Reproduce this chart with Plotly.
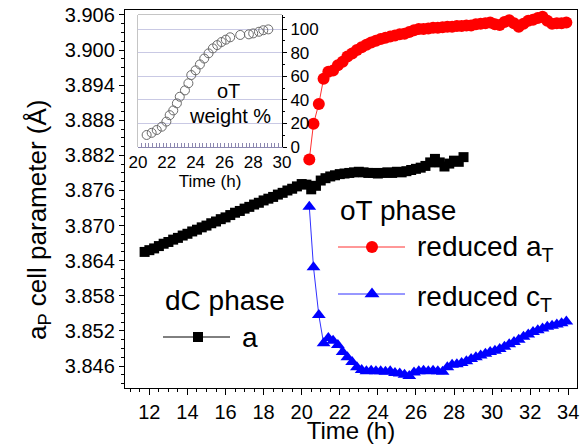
import plotly.graph_objects as go

# dC phase: cubic cell parameter a versus time
t_dc = [11.75, 12.00, 12.25, 12.50, 12.75, 13.00, 13.25, 13.50, 13.75, 14.00,
        14.25, 14.50, 14.75, 15.00, 15.25, 15.50, 15.75, 16.00, 16.25, 16.50,
        16.75, 17.00, 17.25, 17.50, 17.75, 18.00, 18.25, 18.50, 18.75, 19.00,
        19.25, 19.50, 19.75, 20.00, 20.25, 20.50, 20.75, 21.00, 21.25, 21.50,
        21.75, 22.00, 22.25, 22.50, 22.75, 23.00, 23.25, 23.50, 23.75, 24.00,
        24.25, 24.50, 24.75, 25.00, 25.25, 25.50, 25.75, 26.00, 26.25, 26.50,
        26.75, 27.00, 27.25, 27.50, 27.75, 28.00, 28.25, 28.50]
a_dc = [3.8655, 3.8658, 3.8661, 3.8665, 3.8669, 3.8672, 3.8676, 3.8679, 3.8683, 3.8686,
        3.8690, 3.8693, 3.8697, 3.8700, 3.8704, 3.8707, 3.8711, 3.8714, 3.8718, 3.8722,
        3.8725, 3.8729, 3.8732, 3.8736, 3.8739, 3.8743, 3.8746, 3.8749, 3.8753, 3.8756,
        3.8760, 3.8763, 3.8767, 3.8771, 3.8770, 3.8762, 3.8768, 3.8777, 3.8781, 3.8784,
        3.8786, 3.8788, 3.8789, 3.8790, 3.8791, 3.8792, 3.8791, 3.8790, 3.8790, 3.8789,
        3.8790, 3.8791, 3.8790, 3.8792, 3.8791, 3.8793, 3.8795, 3.8797, 3.8799, 3.8802,
        3.8808, 3.8814, 3.8808, 3.8801, 3.8806, 3.8811, 3.8809, 3.8817]

# oT phase: reduced tetragonal parameters a_T and c_T
t_ot = [20.40, 20.62, 20.90, 21.15, 21.40, 21.65, 21.90, 22.15, 22.40, 22.65,
        22.90, 23.15, 23.40, 23.65, 23.90, 24.15, 24.40, 24.65, 24.90, 25.15,
        25.40, 25.65, 25.90, 26.15, 26.40, 26.65, 26.90, 27.15, 27.40, 27.65,
        27.90, 28.15, 28.40, 28.65, 28.90, 29.15, 29.40, 29.65, 29.90, 30.15,
        30.40, 30.65, 30.90, 31.15, 31.40, 31.65, 31.90, 32.15, 32.40, 32.65,
        32.90, 33.15, 33.40, 33.65, 33.90]
a_ot = [3.8813, 3.8874, 3.8908, 3.8951, 3.8963, 3.8965, 3.8974, 3.8980, 3.8989, 3.8994,
        3.9000, 3.9005, 3.9009, 3.9013, 3.9016, 3.9019, 3.9021, 3.9023, 3.9025, 3.9027,
        3.9028, 3.9031, 3.9034, 3.9036, 3.9036, 3.9037, 3.9038, 3.9038, 3.9039, 3.9040,
        3.9040, 3.9041, 3.9041, 3.9042, 3.9042, 3.9044, 3.9045, 3.9046, 3.9047, 3.9044,
        3.9043, 3.9048, 3.9051, 3.9046, 3.9040, 3.9045, 3.9050, 3.9052, 3.9055, 3.9057,
        3.9050, 3.9045, 3.9046, 3.9046, 3.9047]
c_ot = [3.8732, 3.8629, 3.8547, 3.8499, 3.8508, 3.8503, 3.8496, 3.8484, 3.8475, 3.8467,
        3.8458, 3.8453, 3.8451, 3.8452, 3.8451, 3.8451, 3.8450, 3.8451, 3.8448, 3.8447,
        3.8445, 3.8443, 3.8449, 3.8451, 3.8452, 3.8451, 3.8452, 3.8451, 3.8450, 3.8458,
        3.8462, 3.8463, 3.8465, 3.8468, 3.8472, 3.8475, 3.8478, 3.8481, 3.8484, 3.8486,
        3.8489, 3.8493, 3.8497, 3.8501, 3.8505, 3.8510, 3.8514, 3.8518, 3.8521, 3.8524,
        3.8527, 3.8529, 3.8531, 3.8533, 3.8536]

# inset: oT weight fraction
t_wt = [20.60, 20.95, 21.30, 21.65, 21.97, 22.20, 22.45, 22.70, 22.90, 23.26,
        23.50, 23.70, 24.00, 24.30, 24.60, 24.90, 25.20, 25.50, 25.80, 26.10,
        26.40, 27.10, 27.70, 28.00, 28.40, 28.70, 29.05]
wt_ot = [10.2, 12.0, 14.4, 17.2, 21.5, 27.0, 31.0, 37.0, 42.6, 48.0,
         54.0, 61.0, 65.0, 70.0, 75.0, 79.4, 83.6, 86.4, 89.0, 91.0,
         93.0, 95.0, 95.5, 96.3, 97.7, 99.0, 99.7]

FONT = "Liberation Sans, Arial, sans-serif"
W, H = 580, 444
ML, MR, MT, MB = 125, 3, 10, 56
PW, PH = W - ML - MR, H - MT - MB

fig = go.Figure()

fig.add_trace(go.Scatter(x=t_dc, y=a_dc, mode="lines+markers",
                         line=dict(color="black", width=1),
                         marker=dict(symbol="square", size=10, color="black"),
                         showlegend=False))
fig.add_trace(go.Scatter(x=t_ot, y=a_ot, mode="lines+markers",
                         line=dict(color="#ff3030", width=1),
                         marker=dict(symbol="circle", size=12, color="#ff0000"),
                         showlegend=False))
fig.add_trace(go.Scatter(x=t_ot, y=c_ot, mode="lines+markers",
                         line=dict(color="#3030ff", width=1),
                         marker=dict(symbol="triangle-up", size=12, color="#0000ff"),
                         showlegend=False))

# inset: open grey circles
fig.add_trace(go.Scatter(x=t_wt, y=wt_ot, mode="markers", xaxis="x2", yaxis="y2",
                         marker=dict(symbol="circle-open", size=9, color="#6a6a6a",
                                     line=dict(width=1)),
                         showlegend=False))

# key samples drawn in a pixel-space overlay
key_rows = [
    (163, 230, 198, 337, "black", "#000000", "square", 10),
    (338, 405, 372, 247, "#ff3030", "#ff0000", "circle", 12),
    (338, 405, 372, 294, "#3030ff", "#0000ff", "triangle-up", 13),
]
for x0, x1, xm, yy, lc, mc, sym, sz in key_rows:
    fig.add_trace(go.Scatter(x=[x0, x1], y=[yy, yy], mode="lines", xaxis="x3", yaxis="y3",
                             line=dict(color=lc, width=1), showlegend=False, hoverinfo="skip"))
    fig.add_trace(go.Scatter(x=[xm], y=[yy], mode="markers", xaxis="x3", yaxis="y3",
                             marker=dict(symbol=sym, size=sz, color=mc),
                             showlegend=False, hoverinfo="skip"))


def to_paper(px, py):
    return (px - ML) / PW, (H - MB - py) / PH


annos = [
    ("oT phase", 338, 210),
    ("reduced a<sub>T</sub>", 415, 248),
    ("reduced c<sub>T</sub>", 415, 298),
    ("dC phase", 163, 300),
    ("a", 240, 337),
]
annotations = []
for txt, px, py in annos:
    xp, yp = to_paper(px, py)
    annotations.append(dict(text=txt, x=xp, y=yp, xref="paper", yref="paper",
                            xanchor="left", yanchor="middle", showarrow=False,
                            font=dict(family=FONT, size=28, color="black")))
for txt, px, py in [("oT", 228, 91), ("weight %", 230, 116)]:
    xp, yp = to_paper(px, py)
    annotations.append(dict(text=txt, x=xp, y=yp, xref="paper", yref="paper",
                            xanchor="center", yanchor="middle", showarrow=False,
                            font=dict(family=FONT, size=20, color="black")))

# rotated y-axis title
yt_x, yt_y = to_paper(38, 220)
annotations.append(dict(text="a<sub>P</sub> cell parameter (Å)", x=yt_x, y=yt_y,
                        xref="paper", yref="paper", xanchor="center", yanchor="middle",
                        textangle=-90, showarrow=False,
                        font=dict(family=FONT, size=26, color="black")))

ix0, iy1 = to_paper(138, 15)
ix1, iy0 = to_paper(282, 147)

fig.update_layout(
    width=W, height=H,
    margin=dict(l=ML, r=MR, t=MT, b=MB, autoexpand=False),
    paper_bgcolor="white", plot_bgcolor="white",
    font=dict(family=FONT, color="black"),
    annotations=annotations,
    xaxis=dict(range=[10.72, 34.46], tick0=12, dtick=2, ticks="outside", ticklen=6,
               tickwidth=1, tickcolor="black", showline=True, linecolor="black",
               linewidth=1.3, mirror=True, showgrid=False, zeroline=False,
               automargin=False,
               minor=dict(dtick=0.5, ticks="outside", ticklen=3, tickcolor="black"),
               tickfont=dict(size=20),
               title=dict(text="Time (h)", font=dict(size=24), standoff=4)),
    yaxis=dict(range=[3.84224, 3.90685], tick0=3.846, dtick=0.006, tickformat=".3f",
               ticks="outside", ticklen=5, tickwidth=1, tickcolor="black",
               showline=True, linecolor="black", linewidth=1.3, mirror=True,
               showgrid=False, zeroline=False, automargin=False,
               minor=dict(dtick=0.0015, ticks="outside", ticklen=3, tickcolor="black"),
               tickfont=dict(size=20)),
    xaxis2=dict(domain=[ix0, ix1], anchor="y2", range=[20, 30], dtick=2,
                ticks="inside", ticklen=4, tickcolor="#8c88b0", automargin=False,
                minor=dict(dtick=0.25, ticks="inside", ticklen=4, tickcolor="#8c88b0"),
                showline=True, linecolor="#8c88b0", linewidth=1, showgrid=False,
                zeroline=False, tickfont=dict(size=17),
                title=dict(text="Time (h)", font=dict(size=17), standoff=2)),
    yaxis2=dict(domain=[iy0, iy1], anchor="x2", side="right", range=[0, 111.9],
                dtick=20, ticks="outside", ticklen=4, tickcolor="black",
                automargin=False,
                minor=dict(dtick=10, ticks="outside", ticklen=2, tickcolor="black"),
                showline=True, linecolor="black", linewidth=1,
                showgrid=True, gridcolor="#c9c9e4", gridwidth=1, zeroline=False,
                tickfont=dict(size=17)),
    xaxis3=dict(domain=[0, 1], anchor="y3", range=[ML, W - MR], visible=False,
                overlaying="x", automargin=False),
    yaxis3=dict(domain=[0, 1], anchor="x3", range=[H - MB, MT], visible=False,
                overlaying="y", automargin=False),
    shapes=[dict(type="rect", xref="x2 domain", yref="y2 domain", x0=0, x1=1, y0=0, y1=1,
                 line=dict(color="#8a8a8a", width=1), layer="below")],
)

fig.write_html("out.html")
